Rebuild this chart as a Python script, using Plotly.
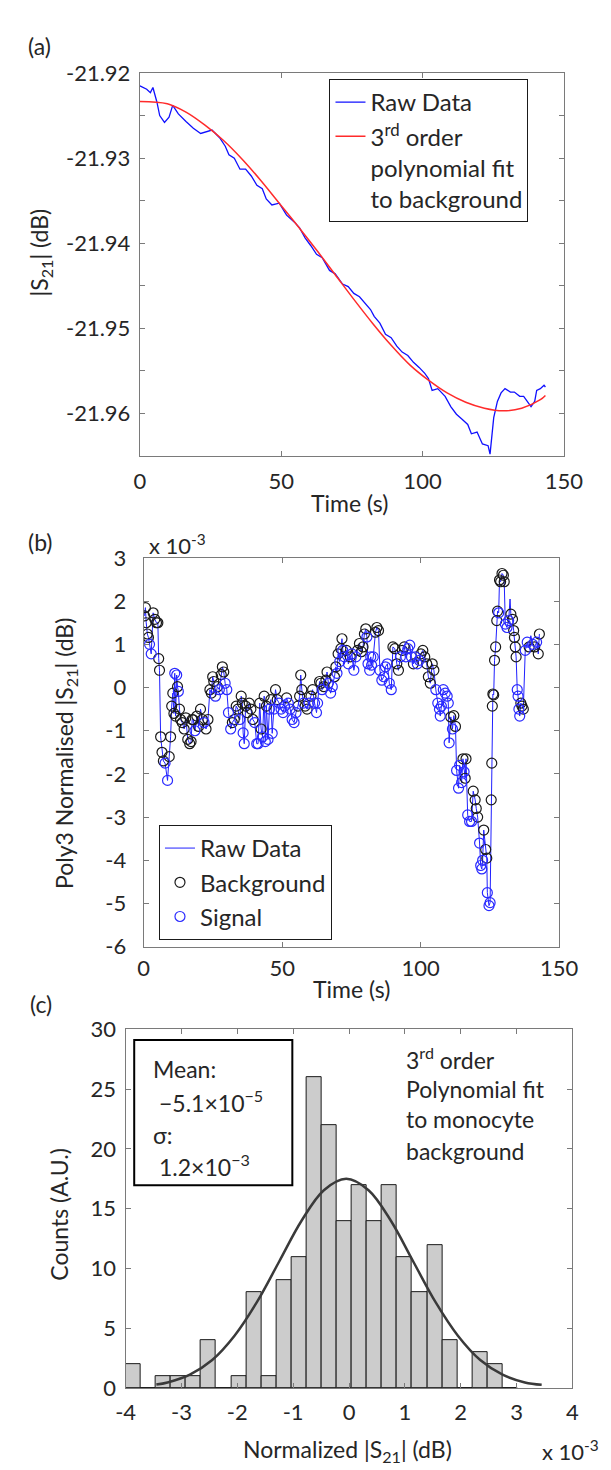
import plotly.graph_objects as go

W, H = 611, 1470
FONT = "Lato"
TXT = "#262626"

# ---------------- (a) raw data and 3rd-order fit ----------------
raw_t = [0, 2.4, 3.7, 4.6, 6.0, 7.0, 8.7, 10.3, 11.6, 13.6, 16.3, 18.9, 21.5, 23.5, 25.5,
         28.2, 30.2, 31.5, 33.4, 35.4, 37.4, 39.4, 41.4, 43.3, 44.7, 46.7, 49.3, 51.9, 54.6,
         56.5, 58.5, 60.5, 62.5, 64.5, 66.2, 67.1, 69.1, 71.7, 73.7, 75.7, 77.7, 79.6, 81.6,
         82.9, 84.9, 86.9, 88.9, 90.9, 92.8, 94.8, 96.8, 98.8, 100.8, 102.1, 103.4, 105.4,
         106.7, 108.0, 110.0, 112.0, 114.0, 116.0, 117.3, 119.3, 121.2, 123.2, 123.9, 125.2,
         126.5, 127.8, 129.2, 131.1, 132.5, 134.4, 135.8, 137.1, 138.4, 139.7, 140.4, 141.7,
         143.0, 143.5]
raw_v = [-21.9215, -21.9219, -21.9223, -21.9217, -21.9234, -21.9250, -21.9258, -21.9252,
         -21.9238, -21.9248, -21.9257, -21.9265, -21.9271, -21.9269, -21.9267, -21.9276,
         -21.9286, -21.9296, -21.9300, -21.9313, -21.9313, -21.9321, -21.9332, -21.9336,
         -21.9348, -21.9355, -21.9353, -21.9367, -21.9375, -21.9382, -21.9394, -21.9403,
         -21.9413, -21.9417, -21.9426, -21.9432, -21.9436, -21.9448, -21.9451, -21.9459,
         -21.9463, -21.9471, -21.9478, -21.9486, -21.9494, -21.9507, -21.9511, -21.9521,
         -21.9528, -21.9532, -21.9540, -21.9546, -21.9553, -21.9559, -21.9573, -21.9571,
         -21.9575, -21.9580, -21.9592, -21.9601, -21.9607, -21.9613, -21.9624, -21.9622,
         -21.9636, -21.9638, -21.9648, -21.9605, -21.9586, -21.9576, -21.9571, -21.9575,
         -21.9575, -21.9580, -21.9580, -21.9586, -21.9592, -21.9586, -21.9573, -21.9571,
         -21.9567, -21.9569]

fit_t = [0, 9.7, 16.3, 22.9, 29.5, 36.1, 42.7, 49.3, 55.9, 62.5, 69.1, 75.7, 82.3, 88.9,
         95.5, 102.1, 108.7, 115.3, 121.9, 128.5, 135.1, 141.7, 143.5]
fit_v = [-21.92334, -21.92361, -21.9246, -21.9261, -21.9279, -21.9301, -21.9326, -21.9353,
         -21.9380, -21.9408, -21.9437, -21.9466, -21.9494, -21.9520, -21.9543, -21.9561,
         -21.9576, -21.9587, -21.9594, -21.9597, -21.9594, -21.9584, -21.9579]

# ---------------- (b) poly3-normalised data (x 10^-3) ----------------
# flag: B = background, S = signal, N = line only
norm_pts = [
    (0.3, 1.66, "B"), (0.6, 1.85, "B"), (0.9, 1.50, "B"), (1.3, 1.24, "B"), (1.7, 1.16, "B"),
    (2.1, 1.00, "S"), (2.7, 0.78, "S"), (3.4, 1.73, "B"), (4.0, 1.58, "B"), (4.6, 1.50, "B"),
    (5.1, 1.50, "B"), (5.4, 0.67, "B"), (5.7, 0.40, "B"), (6.1, -1.14, "B"), (6.6, -1.50, "B"),
    (7.1, -1.70, "B"), (7.7, -1.75, "S"), (8.6, -2.15, "S"), (9.2, -1.60, "B"), (9.7, -1.14, "B"),
    (10.1, -0.43, "B"), (10.5, -0.13, "B"), (10.9, -0.60, "B"), (11.2, 0.33, "S"), (11.5, -0.66, "B"),
    (11.9, 0.29, "S"), (12.2, 0.02, "B"), (12.5, -0.09, "S"), (12.9, -0.50, "B"), (13.3, -0.74, "B"),
    (13.9, -0.81, "B"), (14.6, -0.96, "B"), (15.2, -0.70, "B"), (15.9, -1.20, "B"), (16.6, -1.30, "B"),
    (17.1, -1.25, "B"), (17.5, -0.74, "B"), (17.9, -0.75, "B"), (18.5, -1.00, "S"), (19.2, -0.66, "B"),
    (19.8, -0.90, "B"), (20.5, -0.50, "B"), (21.2, -0.74, "B"), (21.8, -0.81, "S"), (22.5, -0.96, "B"),
    (23.2, -0.74, "B"), (23.9, -0.05, "B"), (24.4, -0.13, "B"), (24.9, 0.25, "B"), (25.3, 0.14, "B"),
    (25.9, -0.20, "S"), (26.6, 0.02, "B"), (27.3, -0.05, "S"), (28.0, 0.30, "B"), (28.4, 0.48, "B"),
    (28.9, 0.36, "B"), (29.4, 0.10, "S"), (30.0, -0.05, "S"), (30.6, -0.58, "S"), (31.4, -0.96, "S"),
    (32.0, -0.81, "B"), (32.7, -0.74, "B"), (33.4, -0.43, "B"), (34.0, -0.50, "B"), (34.7, -0.74, "S"),
    (35.2, -0.20, "B"), (35.6, -0.36, "B"), (35.9, -1.05, "S"), (36.3, -1.30, "S"), (36.8, -0.43, "B"),
    (37.4, -0.58, "B"), (38.1, -0.36, "B"), (38.7, -0.50, "B"), (39.4, -0.74, "B"), (40.1, -0.81, "S"),
    (40.8, -1.30, "S"), (41.3, -1.30, "S"), (41.9, -0.36, "B"), (42.4, -0.96, "B"), (42.9, -1.14, "S"),
    (43.5, -0.20, "B"), (43.9, -1.25, "S"), (44.3, -0.43, "B"), (44.9, -1.20, "S"), (45.4, -0.50, "S"),
    (45.9, -0.28, "B"), (46.4, -1.06, "S"), (47.0, -0.50, "S"), (47.6, -0.05, "B"), (48.2, -0.28, "B"),
    (48.9, -0.36, "S"), (49.6, -0.50, "S"), (50.3, -0.58, "S"), (50.9, -0.43, "S"), (51.6, -0.24, "B"),
    (52.2, -0.36, "S"), (52.9, -0.50, "S"), (53.6, -0.74, "S"), (54.3, -0.81, "S"), (55.0, -0.58, "S"),
    (55.7, -0.43, "B"), (56.3, -0.20, "B"), (56.7, 0.29, "B"), (57.1, -0.05, "B"), (57.7, -0.36, "S"),
    (58.3, -0.43, "B"), (59.0, -0.50, "B"), (59.7, -0.36, "S"), (60.4, -0.20, "B"), (61.0, -0.05, "B"),
    (61.7, -0.36, "S"), (62.4, -0.58, "S"), (62.8, -0.36, "S"), (63.5, 0.14, "B"), (64.0, 0.10, "B"),
    (64.4, -0.05, "S"), (65.1, 0.02, "B"), (65.8, 0.17, "B"), (66.2, 0.36, "B"), (66.7, 0.10, "S"),
    (67.5, -0.13, "S"), (68.1, 0.02, "S"), (68.9, 0.25, "B"), (69.4, 0.48, "B"), (69.8, 0.33, "S"),
    (70.2, 0.78, "B"), (70.8, 0.60, "S"), (71.2, 0.90, "B"), (71.6, 1.13, "B"), (71.9, 0.86, "S"),
    (72.5, 0.71, "S"), (73.2, 0.86, "B"), (73.9, 0.55, "S"), (74.6, 0.71, "B"), (75.2, 0.78, "S"),
    (75.9, 0.40, "S"), (76.6, 0.71, "S"), (77.2, 0.86, "B"), (77.9, 1.02, "B"), (78.6, 0.83, "B"),
    (79.2, 0.94, "B"), (79.7, 1.24, "B"), (80.2, 1.36, "B"), (80.6, 1.17, "S"), (81.0, 0.55, "S"),
    (81.6, 0.40, "S"), (82.0, 0.71, "S"), (82.3, 0.52, "S"), (82.9, 0.71, "S"), (83.7, 1.28, "B"),
    (84.2, 1.39, "B"), (84.8, 1.32, "B"), (85.3, 0.40, "S"), (86.0, 0.17, "S"), (86.7, 0.25, "S"),
    (87.3, 0.48, "S"), (88.0, 0.55, "S"), (88.7, 0.10, "S"), (89.4, -0.05, "S"), (90.0, 0.94, "B"),
    (90.7, 0.90, "B"), (91.4, 0.55, "B"), (92.0, 0.40, "B"), (92.7, 0.71, "S"), (93.4, 0.86, "B"),
    (94.1, 0.94, "B"), (94.7, 0.71, "S"), (95.4, 0.90, "S"), (96.1, 0.98, "S"), (96.7, 0.71, "S"),
    (97.4, 0.55, "B"), (98.1, 0.71, "S"), (98.8, 0.55, "S"), (99.5, 0.63, "S"), (100.1, 0.78, "B"),
    (100.8, 0.86, "B"), (101.5, 0.71, "B"), (102.2, 0.55, "B"), (102.8, 0.25, "B"), (103.5, 0.10, "B"),
    (104.2, 0.55, "B"), (104.8, 0.40, "B"), (105.5, -0.05, "S"), (106.2, -0.36, "S"), (106.8, -0.50, "S"),
    (107.1, -0.66, "S"), (107.5, -0.43, "S"), (108.2, -0.05, "S"), (108.9, -0.13, "S"), (109.6, -0.20, "S"),
    (110.0, -0.36, "S"), (110.3, -1.28, "S"), (110.9, -0.68, "B"), (111.5, -0.96, "S"), (112.0, -0.65, "B"),
    (112.6, -0.90, "B"), (113.0, -1.92, "S"), (113.7, -2.33, "S"), (114.1, -1.80, "S"), (114.8, -2.20, "S"),
    (115.3, -1.65, "B"), (115.7, -1.95, "S"), (116.1, -2.10, "B"), (116.4, -1.65, "B"), (117.0, -2.95, "S"),
    (117.7, -3.10, "S"), (118.4, -3.10, "S"), (119.0, -2.40, "B"), (119.7, -2.60, "B"), (120.1, -2.80, "B"),
    (120.6, -3.00, "B"), (121.3, -3.60, "S"), (121.7, -4.12, "S"), (122.1, -4.20, "S"), (122.4, -4.00, "S"),
    (122.8, -3.30, "B"), (123.5, -3.75, "B"), (123.9, -3.95, "B"), (124.1, -4.75, "S"), (124.7, -5.05, "S"),
    (125.1, -4.98, "S"), (125.5, -2.60, "B"), (125.7, -1.75, "B"), (125.9, -0.43, "B"), (126.1, -0.15, "B"),
    (126.4, -0.17, "B"), (126.7, 0.63, "B"), (127.1, 0.94, "B"), (127.5, 1.55, "B"), (127.8, 1.77, "B"),
    (128.2, 1.73, "S"), (128.5, 2.49, "B"), (128.9, 2.45, "B"), (129.4, 2.64, "B"), (129.9, 2.60, "B"),
    (130.2, 2.45, "B"), (130.6, 1.47, "S"), (131.2, 1.39, "S"), (131.8, 1.55, "S"), (132.3, 2.05, "N"),
    (132.6, 1.70, "B"), (133.2, 1.58, "B"), (133.6, 1.32, "B"), (133.9, 1.16, "B"), (134.2, 0.94, "B"),
    (134.5, 0.71, "B"), (134.9, -0.05, "S"), (135.2, -0.20, "S"), (135.5, -0.50, "S"), (135.8, -0.66, "S"),
    (136.2, -0.36, "B"), (136.6, -0.43, "B"), (137.1, -0.50, "B"), (137.8, 0.86, "S"), (138.5, 1.05, "S"),
    (139.2, 0.94, "B"), (139.8, 1.20, "N"), (140.5, 1.00, "S"), (141.2, 0.94, "B"), (141.9, 1.05, "S"),
    (142.5, 0.78, "B"), (142.9, 1.24, "B"),
]
norm_t = [p[0] for p in norm_pts]
norm_v = [p[1] for p in norm_pts]
norm_flag = [p[2] for p in norm_pts]

# ---------------- (c) histogram (x 10^-3) ----------------
bin_centers = [-3.865, -3.595, -3.325, -3.055, -2.785, -2.515, -2.245, -1.975, -1.705,
               -1.435, -1.165, -0.895, -0.625, -0.355, -0.085, 0.185, 0.455, 0.725, 0.995,
               1.265, 1.535, 1.805, 2.075, 2.345, 2.615, 2.885]
bin_counts = [2, 0, 1, 1, 1, 4, 0, 1, 8, 1, 9, 11, 26, 22, 14, 17, 14, 17, 11, 8, 12, 4, 0, 3, 2, 0]
bin_width = 0.27
gauss_x = [-3.45, -3.25, -2.85, -2.45, -2.05, -1.65, -1.25, -0.85, -0.45, -0.05, 0.35, 0.75,
           1.15, 1.55, 1.95, 2.35, 2.75, 3.15, 3.45]
gauss_y = [0.32, 0.5, 1.15, 2.37, 4.4, 7.2, 10.6, 14.0, 16.55, 17.5, 16.55, 14.0, 10.6, 7.2,
           4.4, 2.37, 1.15, 0.5, 0.3]


def px(x):
    return x / W


def py(y):
    return 1 - y / H


fig = go.Figure()

# (a)
fig.add_trace(go.Scatter(x=raw_t, y=raw_v, mode="lines", name="Raw Data",
                         line=dict(color="#1010ff", width=1.3), xaxis="x", yaxis="y",
                         legend="legend"))
fig.add_trace(go.Scatter(x=fit_t, y=fit_v, mode="lines", line_shape="spline",
                         name="3<sup>rd</sup> order<br>polynomial fit<br>to background",
                         line=dict(color="#ff2b2b", width=1.5), xaxis="x", yaxis="y",
                         legend="legend"))

# (b)
fig.add_trace(go.Scatter(x=norm_t, y=norm_v, mode="lines", name="Raw Data",
                         line=dict(color="#2020ff", width=1), xaxis="x2", yaxis="y2",
                         legend="legend2"))
bt = [t for t, f in zip(norm_t, norm_flag) if f == "B"]
bv = [v for v, f in zip(norm_v, norm_flag) if f == "B"]
st = [t for t, f in zip(norm_t, norm_flag) if f == "S"]
sv = [v for v, f in zip(norm_v, norm_flag) if f == "S"]
fig.add_trace(go.Scatter(x=bt, y=bv, mode="markers", name="Background",
                         marker=dict(symbol="circle-open", size=10, color="#1a1a1a",
                                     line=dict(width=1.2)),
                         xaxis="x2", yaxis="y2", legend="legend2"))
fig.add_trace(go.Scatter(x=st, y=sv, mode="markers", name="Signal",
                         marker=dict(symbol="circle-open", size=10, color="#2a2aff",
                                     line=dict(width=1.2)),
                         xaxis="x2", yaxis="y2", legend="legend2"))

# (c)
fig.add_trace(go.Bar(x=bin_centers, y=bin_counts, width=bin_width,
                     marker=dict(color="#cccccc", line=dict(color="#1a1a1a", width=1)),
                     xaxis="x3", yaxis="y3", showlegend=False))
fig.add_trace(go.Scatter(x=gauss_x, y=gauss_y, mode="lines", line_shape="spline",
                         line=dict(color="#3a3a3a", width=2.5), xaxis="x3", yaxis="y3",
                         showlegend=False))

tickfont = dict(family=FONT, size=22, color=TXT)
axcommon = dict(showline=True, linecolor="#7a7a7a", linewidth=1.3, mirror="ticks",
                ticks="inside", ticklen=5, tickcolor="#7a7a7a", showgrid=False,
                zeroline=False, tickfont=tickfont)

fig.update_layout(
    width=W, height=H, margin=dict(l=0, r=0, t=0, b=0),
    paper_bgcolor="white", plot_bgcolor="white",
    font=dict(family=FONT, size=22, color=TXT),
    bargap=0,
    xaxis=dict(domain=[px(128), px(573)], anchor="y", range=[0, 150],
               tickvals=[0, 50, 100, 150], ticktext=["0", "50", "100", "150"],
               ticklabelstandoff=6, **axcommon),
    yaxis=dict(domain=[py(442), py(52)], anchor="x", range=[-21.965, -21.92],
               tickvals=[-21.96, -21.955, -21.95, -21.945, -21.94, -21.935, -21.93, -21.925, -21.92],
               ticktext=["-21.96", "", "-21.95", "", "-21.94", "", "-21.93", "", "-21.92"],
               ticklabelstandoff=4, **axcommon),
    xaxis2=dict(domain=[px(132), px(568)], anchor="y2", range=[0, 150],
                tickvals=[0, 50, 100, 150], ticktext=["0", "50", "100", "150"],
                ticklabelstandoff=2, **axcommon),
    yaxis2=dict(domain=[py(942), py(546)], anchor="x2", range=[-6, 3],
                tickvals=[-6, -5, -4, -3, -2, -1, 0, 1, 2, 3],
                ticktext=["-6", "-5", "-4", "-3", "-2", "-1", "0", "1", "2", "3"],
                ticklabelstandoff=12, **axcommon),
    xaxis3=dict(domain=[px(113), px(582)], anchor="y3", range=[-4, 4],
                tickvals=[-4, -3, -2, -1, 0, 1, 2, 3, 4],
                ticktext=["-4", "-3", "-2", "-1", "0", "1", "2", "3", "4"],
                ticklabelstandoff=4, **axcommon),
    yaxis3=dict(domain=[py(1392), py(1026)], anchor="x3", range=[0, 30],
                tickvals=[0, 5, 10, 15, 20, 25, 30], ticklabelstandoff=4, **axcommon),
    legend=dict(x=px(327), y=py(58), xanchor="left", yanchor="top",
                bordercolor="#1a1a1a", borderwidth=1, bgcolor="white",
                font=dict(family=FONT, size=24, color=TXT), valign="top",
                tracegroupgap=2, itemwidth=30),
    legend2=dict(x=px(148), y=py(818), xanchor="left", yanchor="top",
                 bordercolor="#1a1a1a", borderwidth=1, bgcolor="white",
                 font=dict(family=FONT, size=24, color=TXT), itemwidth=30),
)

ann = []


def add_text(x, y, text, size=23, xanchor="center", angle=0):
    ann.append(dict(x=px(x), y=py(y), xref="paper", yref="paper", text=text,
                    showarrow=False, xanchor=xanchor, yanchor="middle", textangle=angle,
                    font=dict(family=FONT, size=size, color=TXT)))


add_text(8, 24, "(a)", xanchor="left")
add_text(8, 530, "(b)", xanchor="left")
add_text(10, 1000, "(c)", xanchor="left")
add_text(24, 235, "|S<sub>21</sub>| (dB)", angle=-90)
add_text(348, 490, "Time (s)")
add_text(50, 745, "Poly3 Normalised |S<sub>21</sub>| (dB)", angle=-90)
add_text(350, 985, "Time (s)")
add_text(135, 532, "x 10<sup>-3</sup>", size=22, xanchor="left")
add_text(43, 1215, "Counts (A.U.)", angle=-90)
add_text(346, 1455, "Normalized |S<sub>21</sub>| (dB)")
add_text(548, 1455, "x 10<sup>-3</sup>", size=22, xanchor="left")
# mean / sigma box text
add_text(140, 1067, "Mean:", xanchor="left")
add_text(146, 1100, "\u22125.1\u00d710<sup>\u22125</sup>", xanchor="left")
add_text(140, 1134, "\u03c3:", xanchor="left")
add_text(146, 1165, "1.2\u00d710<sup>\u22123</sup>", xanchor="left")
# right text
add_text(405, 1056, "3<sup>rd</sup> order", xanchor="left")
add_text(405, 1087, "Polynomial fit", xanchor="left")
add_text(405, 1118, "to monocyte", xanchor="left")
add_text(405, 1150, "background", xanchor="left")

fig.update_layout(annotations=ann)
fig.add_shape(type="rect", xref="paper", yref="paper", x0=px(122), x1=px(288),
              y0=py(1185), y1=py(1037), line=dict(color="black", width=2),
              fillcolor="white", layer="above")

fig.write_html("out.html")
